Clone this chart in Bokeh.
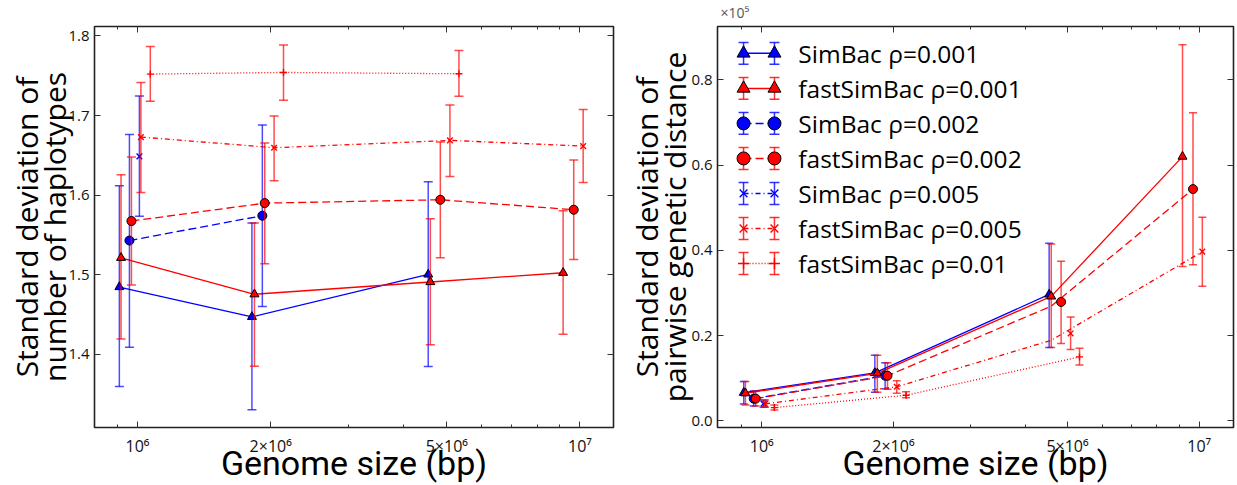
import math
from bokeh.plotting import figure
from bokeh.layouts import row
from bokeh.models import (Range1d, FixedTicker, LinearAxis, LogAxis, Title, PrintfTickFormatter,
                          LinearScale, CustomLabelingPolicy)
from bokeh.core.properties import value
from bokeh.embed import file_html
from bokeh.resources import INLINE

FONT = "Open Sans"
XFONT = "Roboto"
BLUE, RED = "#0000ff", "#ff0000"

# ---------------- data ----------------
tools = ["SimBac", "fastSimBac", "SimBac", "fastSimBac", "SimBac", "fastSimBac", "fastSimBac"]
rhos = ["0.001", "0.001", "0.002", "0.002", "0.005", "0.005", "0.01"]

x_ticks = [1e6, 2e6, 5e6, 1e7]
x_tick_labels = ["10\u2076", "2\u00d710\u2076", "5\u00d710\u2076", "10\u2077"]
x_minor = [9e5, 3e6, 4e6, 6e6, 7e6, 8e6, 9e6]

# genome sizes (slightly offset per series as in the original figure)
x_sim001 = [9.10e5, 1.814e6, 4.54e6]
x_fast001 = [9.18e5, 1.838e6, 4.59e6, 9.16e6]
x_sim002 = [9.59e5, 1.915e6]
x_fast002 = [9.69e5, 1.939e6, 4.835e6, 9.68e6]
x_sim005 = [1.01e6]
x_fast005 = [1.018e6, 2.036e6, 5.083e6, 1.0167e7]
x_fast01 = [1.069e6, 2.138e6, 5.327e6]

# left panel: SD of number of haplotypes (mean, lower, upper)
hap_sim001 = [1.4846, 1.4471, 1.5004]
hap_sim001_lo = [1.3596, 1.3305, 1.3846]
hap_sim001_hi = [1.6117, 1.5650, 1.6167]
hap_fast001 = [1.5213, 1.4755, 1.4909, 1.5025]
hap_fast001_lo = [1.4192, 1.3850, 1.4121, 1.4254]
hap_fast001_hi = [1.6255, 1.5650, 1.5705, 1.5805]
hap_sim002 = [1.5430, 1.5742]
hap_sim002_lo = [1.4088, 1.4600]
hap_sim002_hi = [1.6763, 1.6880]
hap_fast002 = [1.5675, 1.5900, 1.5942, 1.5817]
hap_fast002_lo = [1.4871, 1.5138, 1.5213, 1.5192]
hap_fast002_hi = [1.6480, 1.6655, 1.6667, 1.6442]
hap_sim005 = [1.6488]
hap_sim005_lo = [1.5734]
hap_sim005_hi = [1.7246]
hap_fast005 = [1.6730, 1.6596, 1.6688, 1.6617]
hap_fast005_lo = [1.6034, 1.6180, 1.6234, 1.6159]
hap_fast005_hi = [1.7417, 1.6996, 1.7134, 1.7075]
hap_fast01 = [1.7521, 1.7542, 1.7525]
hap_fast01_lo = [1.7180, 1.7192, 1.7242]
hap_fast01_hi = [1.7867, 1.7888, 1.7817]

# right panel: SD of pairwise genetic distance (x1e5)
dist_sim001 = [0.0660, 0.1125, 0.2965]
dist_sim001_lo = [0.0397, 0.0670, 0.1720]
dist_sim001_hi = [0.0920, 0.1540, 0.4167]
dist_fast001 = [0.0647, 0.1114, 0.2920, 0.6200]
dist_fast001_lo = [0.0370, 0.0670, 0.1720, 0.3620]
dist_fast001_hi = [0.0920, 0.1540, 0.4150, 0.8825]
dist_sim002 = [0.0520, 0.1060]
dist_sim002_lo = [0.0350, 0.0750]
dist_sim002_hi = [0.0700, 0.1360]
dist_fast002 = [0.0520, 0.1058, 0.2790, 0.5437]
dist_fast002_lo = [0.0350, 0.0740, 0.1815, 0.3660]
dist_fast002_hi = [0.0700, 0.1360, 0.3745, 0.7227]
dist_sim005 = [0.0400]
dist_sim005_lo = [0.0320]
dist_sim005_hi = [0.0490]
dist_fast005 = [0.0397, 0.0800, 0.2050, 0.3970]
dist_fast005_lo = [0.0320, 0.0647, 0.1675, 0.3160]
dist_fast005_hi = [0.0490, 0.0940, 0.2437, 0.4774]
dist_fast01 = [0.0310, 0.0600, 0.1500]
dist_fast01_lo = [0.0257, 0.0540, 0.1310]
dist_fast01_hi = [0.0374, 0.0680, 0.1700]
# connecting lines of the right panel (vertex near 5e6 drawn off the marker in the original)
dist_fast002_line_x = [9.69e5, 1.939e6, 4.59e6, 9.68e6]
dist_fast002_line_y = [0.0520, 0.1058, 0.2690, 0.5437]
dist_fast005_line_x = [1.018e6, 2.036e6, 4.59e6, 1.0167e7]
dist_fast005_line_y = [0.0397, 0.0800, 0.1890, 0.3970]

hap_ticks = [1.4, 1.5, 1.6, 1.7, 1.8]
dist_ticks = [0.0, 0.2, 0.4, 0.6, 0.8]

# ---------------- styles ----------------
colors = [BLUE, RED, BLUE, RED, BLUE, RED, RED]
markers = ["triangle", "triangle", "circle", "circle", "x", "x", "cross"]
dashes = ["solid", "solid", "8 4", "8 4", "5 3 1 3", "5 3 1 3", "1 2"]
msizes = [9, 9, 9, 9, 8, 8, 7]

xs_all = [x_sim001, x_fast001, x_sim002, x_fast002, x_sim005, x_fast005, x_fast01]
hap_all = [(hap_sim001, hap_sim001_lo, hap_sim001_hi), (hap_fast001, hap_fast001_lo, hap_fast001_hi),
           (hap_sim002, hap_sim002_lo, hap_sim002_hi), (hap_fast002, hap_fast002_lo, hap_fast002_hi),
           (hap_sim005, hap_sim005_lo, hap_sim005_hi), (hap_fast005, hap_fast005_lo, hap_fast005_hi),
           (hap_fast01, hap_fast01_lo, hap_fast01_hi)]
dist_all = [(dist_sim001, dist_sim001_lo, dist_sim001_hi), (dist_fast001, dist_fast001_lo, dist_fast001_hi),
            (dist_sim002, dist_sim002_lo, dist_sim002_hi), (dist_fast002, dist_fast002_lo, dist_fast002_hi),
            (dist_sim005, dist_sim005_lo, dist_sim005_hi), (dist_fast005, dist_fast005_lo, dist_fast005_hi),
            (dist_fast01, dist_fast01_lo, dist_fast01_hi)]
dist_lines = {3: (dist_fast002_line_x, dist_fast002_line_y), 5: (dist_fast005_line_x, dist_fast005_line_y)}

NO_LABELS = CustomLabelingPolicy(code="return new Set()")


def draw_marker(p, xs, ys, i, size, **kw):
    m = markers[i]
    if m in ("triangle", "circle"):
        p.scatter(xs, ys, marker=m, size=size, fill_color=colors[i], line_color="black", line_width=1, **kw)
    else:
        p.scatter(xs, ys, marker=m, size=size, line_color=colors[i], line_width=1.4, **kw)


def make_fig(width, xr, yr, ticks, bl, br, bt, bb, ylabel, ystand):
    p = figure(width=width, height=485, x_axis_type="log", x_range=Range1d(*xr), y_range=Range1d(*yr),
               output_backend="svg", toolbar_location=None,
               min_border_left=bl, min_border_right=br, min_border_top=bt, min_border_bottom=bb)
    p.xgrid.visible = False
    p.ygrid.visible = False
    p.outline_line_color = "#222222"
    p.outline_line_width = 1.6
    p.background_fill_color = "white"
    p.border_fill_color = "white"

    xt = FixedTicker(ticks=x_ticks, minor_ticks=x_minor)
    yt = FixedTicker(ticks=ticks, minor_ticks=[])
    ax = p.xaxis[0]
    ax.ticker = xt
    ax.major_label_overrides = {t: l for t, l in zip(x_ticks, x_tick_labels)}
    ay = p.yaxis[0]
    ay.ticker = yt
    ay.formatter = PrintfTickFormatter(format="%.1f")
    for a in (ax, ay):
        a.axis_line_color = None
        a.major_tick_in = 6
        a.major_tick_out = 0
        a.minor_tick_in = 3
        a.minor_tick_out = 0
        a.major_tick_line_color = "#333333"
        a.minor_tick_line_color = "#333333"
        a.major_label_text_font = FONT
        a.major_label_text_color = "#111111"
        a.axis_label_text_font = FONT
        a.axis_label_text_font_style = "normal"
        a.axis_label_text_color = "black"
    ax.major_label_text_font_size = "16px"
    ay.major_label_text_font_size = "15px"
    ax.major_label_standoff = 7
    ay.major_label_standoff = 5
    ax.axis_label = "Genome size (bp)"
    ax.axis_label_text_font = XFONT
    ax.axis_label_text_font_size = "34px"
    ax.axis_label_standoff = -17
    ay.axis_label = ylabel
    ay.axis_label_text_font_size = "30px"
    ay.axis_label_text_line_height = 0.7
    ay.axis_label_standoff = ystand

    top = LogAxis(ticker=xt, major_label_policy=NO_LABELS, major_label_text_font_size="1px",
                  major_label_standoff=0, axis_line_color=None, major_tick_in=6, major_tick_out=0,
                  minor_tick_in=3, minor_tick_out=0,
                  major_tick_line_color="#333333", minor_tick_line_color="#333333")
    right = LinearAxis(ticker=yt, major_label_policy=NO_LABELS, major_label_text_font_size="1px",
                       major_label_standoff=0, axis_line_color=None, major_tick_in=6, major_tick_out=0,
                       minor_tick_in=0, minor_tick_out=0, major_tick_line_color="#333333")
    p.add_layout(top, "above")
    p.add_layout(right, "right")
    return p


def draw_panel(p, data, cap, lines=None):
    for i, (xs, (ys, lo, hi)) in enumerate(zip(xs_all, data)):
        c = colors[i]
        p.segment(xs, lo, xs, hi, line_color=c, line_width=1.5, line_alpha=0.7)
        p.scatter(xs, lo, marker="dash", size=cap, line_color=c, line_width=1.5, line_alpha=0.7)
        p.scatter(xs, hi, marker="dash", size=cap, line_color=c, line_width=1.5, line_alpha=0.7)
        lx, ly = (lines or {}).get(i, (xs, ys))
        p.line(lx, ly, line_color=c, line_width=1.3, line_dash=dashes[i])
        draw_marker(p, xs, ys, i, msizes[i])


# ---------------- left panel ----------------
p1 = make_fig(620, (7.996e5, 1.1906e7), (1.3081, 1.8119), hap_ticks, 94, 7, 24, 58,
              "Standard deviation of\nnumber of haplotypes", -10)
draw_panel(p1, hap_all, 9)

# ---------------- right panel ----------------
p2 = make_fig(617, (7.925e5, 1.198e7), (-0.01565, 0.9252), dist_ticks, 97, 1, 25, 57,
              "Standard deviation of\npairwise genetic distance", -7)
draw_panel(p2, dist_all, 8, dist_lines)
p2.add_layout(Title(text="\u00d710\u2075", align="left", offset=3, standoff=1,
                    text_font=FONT, text_font_size="14px", text_font_style="normal",
                    text_color="#555555"), "above")

# legend drawn in frame pixel coordinates
p2.extra_x_ranges = {"lgx": Range1d(0, 519)}
p2.extra_y_ranges = {"lgy": Range1d(0, 403)}
p2.extra_x_scales = {"lgx": LinearScale()}
p2.extra_y_scales = {"lgy": LinearScale()}
kw = dict(x_range_name="lgx", y_range_name="lgy")
for i in range(7):
    yy = 376 - 35.2 * i
    c = colors[i]
    mx = [26.2, 57.3]
    my = [yy, yy]
    p2.segment(mx, [yy - 11, yy - 11], mx, [yy + 11, yy + 11], line_color=c, line_width=1.5, line_alpha=0.8, **kw)
    p2.scatter(mx, [yy - 11, yy - 11], marker="dash", size=10, line_color=c, line_width=1.5, line_alpha=0.8, **kw)
    p2.scatter(mx, [yy + 11, yy + 11], marker="dash", size=10, line_color=c, line_width=1.5, line_alpha=0.8, **kw)
    p2.line(mx, my, line_color=c, line_width=1.5, line_dash=dashes[i], **kw)
    draw_marker(p2, mx, my, i, 13 if markers[i] in ("triangle", "circle") else 11, **kw)
    p2.text([81.3], [yy], text=[f"{tools[i]} \u03c1={rhos[i]}"], text_font=value(FONT),
            text_font_size="24.5px", text_baseline="middle", text_align="left", text_color="black", **kw)

layout = row(p1, p2)
open("out.html", "w").write(file_html(layout, INLINE))
